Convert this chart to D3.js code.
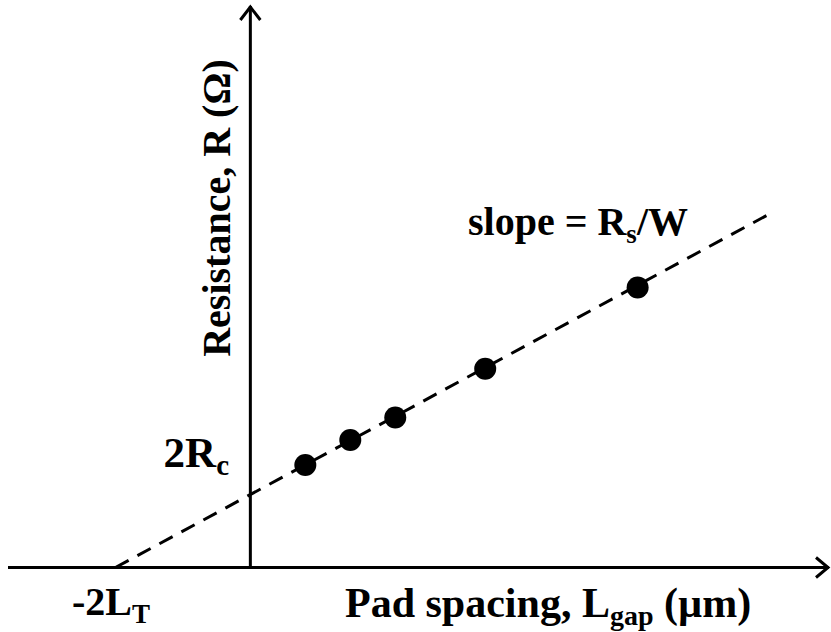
<!DOCTYPE html>
<html>
<head>
<meta charset="utf-8">
<script src="https://cdn.jsdelivr.net/npm/d3@7"></script>
<style>
  body { margin: 0; background: #fff; }
  text { font-family: 'Liberation Serif', 'Times New Roman', serif; font-weight: bold; fill: #000; }
</style>
</head>
<body>
<svg id="canvas" width="831" height="632"></svg>
<script>
// data (arbitrary units)
var padSpacing = [2.2, 4.0, 5.8, 9.4, 15.5];
var resistance = [4.1, 5.1, 6.0, 7.95, 11.2];
var fitX = [-5.4, 20.7];
var fitY = [0, 14.1];
var xRange = [-9.7, 23.2];
var yRange = [0, 22.5];

var svg = d3.select('#canvas');

// ************************************************************************************** //
// Scales

var xScale = d3.scaleLinear().domain(xRange).range([8, 830]);
var yScale = d3.scaleLinear().domain(yRange).range([567.5, 5]);
var lineGen = d3.line().x(d => xScale(d.x)).y(d => yScale(d.y));

// ************************************************************************************** //
// Axes with open arrow heads

var x0 = xScale(0), y0 = yScale(0);
svg.append('line').attr('x1', xScale(xRange[0])).attr('y1', y0).attr('x2', xScale(xRange[1]) - 1).attr('y2', y0)
  .attr('stroke', '#000').attr('stroke-width', 3);
svg.append('line').attr('x1', x0).attr('y1', y0).attr('x2', x0).attr('y2', yScale(yRange[1]) + 1)
  .attr('stroke', '#000').attr('stroke-width', 3);

var xe = xScale(xRange[1]) - 2, ye = yScale(yRange[1]) + 2;
svg.append('path').attr('d', 'M' + (xe - 12) + ',' + (y0 - 10) + 'L' + xe + ',' + y0 + 'L' + (xe - 12) + ',' + (y0 + 10))
  .attr('fill', 'none').attr('stroke', '#000').attr('stroke-width', 3);
svg.append('path').attr('d', 'M' + (x0 - 10) + ',' + (ye + 13) + 'L' + x0 + ',' + ye + 'L' + (x0 + 10) + ',' + (ye + 13))
  .attr('fill', 'none').attr('stroke', '#000').attr('stroke-width', 3);

// ************************************************************************************** //
// Fit line and points

var fit = fitX.map((d, i) => ({ x: d, y: fitY[i] }));
svg.append('path').attr('d', lineGen(fit))
  .attr('fill', 'none').attr('stroke', '#000').attr('stroke-width', 3).attr('stroke-dasharray', '15,10');

svg.selectAll('circle.pt').data(padSpacing).enter().append('circle')
  .attr('class', 'pt')
  .attr('cx', d => xScale(d))
  .attr('cy', (d, i) => yScale(resistance[i]))
  .attr('r', 11).attr('fill', '#000');

// ************************************************************************************** //
// Labels

svg.append('text').attr('transform', 'translate(230,208) rotate(-90)')
  .attr('text-anchor', 'middle').style('font-size', '40px')
  .text('Resistance, R (\u03A9)');

var lab1 = svg.append('text').attr('x', 345).attr('y', 617).style('font-size', '42px');
lab1.append('tspan').text('Pad spacing, L');
lab1.append('tspan').attr('dy', 8).style('font-size', '28px').text('gap');
lab1.append('tspan').attr('dy', -8).text(' (\u00B5m)');

var lab2 = svg.append('text').attr('x', 72).attr('y', 615).style('font-size', '40px');
lab2.append('tspan').text('-2L');
lab2.append('tspan').attr('dy', 8).style('font-size', '27px').text('T');

var lab3 = svg.append('text').attr('x', 229).attr('y', 467).attr('text-anchor', 'end').style('font-size', '43px');
lab3.append('tspan').text('2R');
lab3.append('tspan').attr('dy', 8).style('font-size', '29px').text('c');

var lab4 = svg.append('text').attr('x', 468).attr('y', 235).style('font-size', '40px');
lab4.append('tspan').text('slope = R');
lab4.append('tspan').attr('dy', 8).style('font-size', '27px').text('s');
lab4.append('tspan').attr('dy', -8).text('/W');
</script>
</body>
</html>
